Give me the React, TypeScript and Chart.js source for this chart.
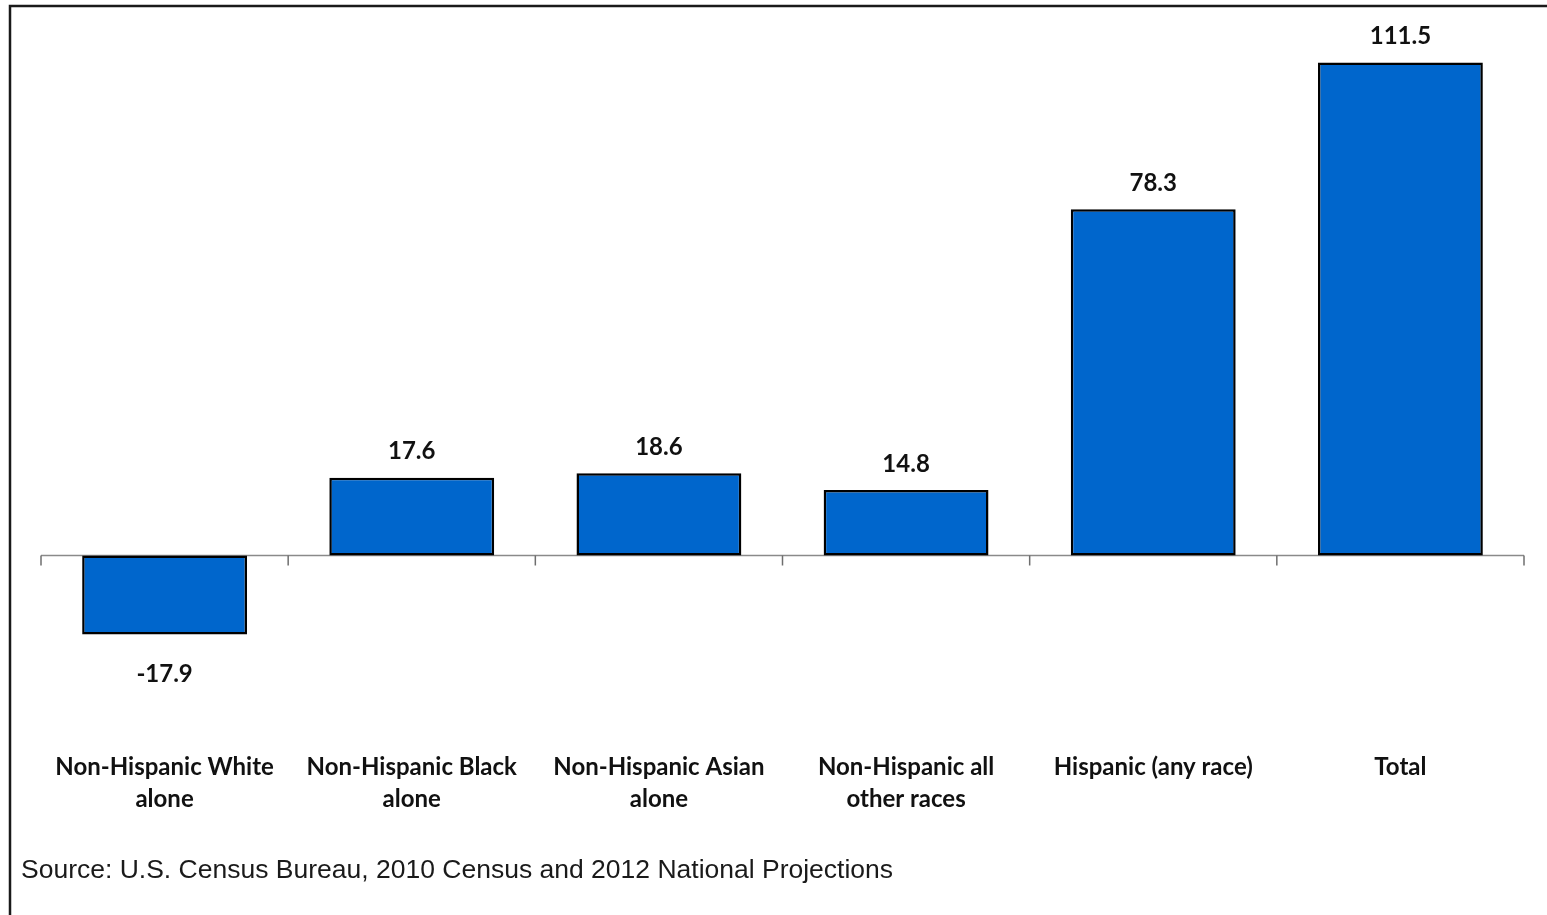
import React, { useEffect, useRef } from "react";
import { Chart, registerables } from "chart.js";

Chart.register(...registerables);

const categories: string[][] = [
  ["Non-Hispanic White", "alone"],
  ["Non-Hispanic Black", "alone"],
  ["Non-Hispanic Asian", "alone"],
  ["Non-Hispanic all", "other races"],
  ["Hispanic (any race)"],
  ["Total"],
];
const values: number[] = [-17.9, 17.6, 18.6, 14.8, 78.3, 111.5];
const sourceNote = "Source: U.S. Census Bureau, 2010 Census and 2012 National Projections";

const W = 1547;
const H = 915;

const framePlugin = {
  id: "frame",
  beforeDraw(chart: any) {
    const ctx = chart.ctx;
    ctx.save();
    ctx.fillStyle = "#ffffff";
    ctx.fillRect(0, 0, chart.width, chart.height);
    ctx.strokeStyle = "#1a1a1a";
    ctx.lineWidth = 2.5;
    ctx.strokeRect(10, 6, chart.width + 50, chart.height + 50);
    ctx.restore();
  },
  afterDraw(chart: any) {
    const ctx = chart.ctx;
    ctx.save();
    ctx.fillStyle = "#1a1a1a";
    ctx.font = "26.5px 'Liberation Sans', Arial, sans-serif";
    ctx.textAlign = "left";
    ctx.textBaseline = "middle";
    ctx.fillText(sourceNote, 21, 871);
    ctx.restore();
  },
};

const zeroAxisPlugin = {
  id: "zeroAxis",
  beforeDatasetsDraw(chart: any) {
    const ctx = chart.ctx;
    const x = chart.scales.x;
    const y = chart.scales.y;
    const area = chart.chartArea;
    const y0 = y.getPixelForValue(0);
    ctx.save();
    ctx.strokeStyle = "#8a8a8a";
    ctx.lineWidth = 1.5;
    ctx.beginPath();
    ctx.moveTo(area.left, y0);
    ctx.lineTo(area.right, y0);
    ctx.stroke();
    ctx.strokeStyle = "#6e6e6e";
    ctx.lineWidth = 1.5;
    const n = values.length;
    for (let i = 0; i <= n; i++) {
      let bx: number;
      if (i === 0) bx = area.left;
      else if (i === n) bx = area.right;
      else bx = (x.getPixelForValue(i - 1) + x.getPixelForValue(i)) / 2;
      ctx.beginPath();
      ctx.moveTo(bx, y0);
      ctx.lineTo(bx, y0 + 10);
      ctx.stroke();
    }
    ctx.restore();
  },
};

const valueLabelPlugin = {
  id: "valueLabels",
  afterDatasetsDraw(chart: any) {
    const ctx = chart.ctx;
    const meta = chart.getDatasetMeta(0);
    ctx.save();
    ctx.fillStyle = "#111111";
    ctx.font = "bold 24px Lato, 'Noto Sans', sans-serif";
    ctx.textAlign = "center";
    ctx.textBaseline = "middle";
    meta.data.forEach((bar: any, i: number) => {
      const v = values[i];
      const ty = v >= 0 ? bar.y - 26 : bar.y + 40;
      ctx.fillText(v.toFixed(1), bar.x, ty);
    });
    ctx.restore();
  },
};

export default function App() {
  const ref = useRef<HTMLCanvasElement | null>(null);

  useEffect(() => {
    document.body.style.margin = "0";
    document.body.style.overflow = "hidden";
    const canvas = ref.current;
    if (!canvas) return;
    const chart = new Chart(canvas, {
      type: "bar",
      data: {
        labels: categories,
        datasets: [
          {
            data: values,
            backgroundColor: "#0066cc",
            borderColor: "#000000",
            borderWidth: 2.5,
            borderSkipped: false,
            barPercentage: 0.667,
            categoryPercentage: 1,
          },
        ],
      },
      options: {
        responsive: false,
        animation: false,
        devicePixelRatio: 1,
        layout: { padding: { left: 41, right: 23, top: 25, bottom: 90 } },
        plugins: {
          legend: { display: false },
          tooltip: { enabled: false },
          title: { display: false },
        },
        scales: {
          x: {
            grid: { display: false, drawTicks: false },
            border: { display: false },
            ticks: {
              color: "#111111",
              padding: 10,
              maxRotation: 0,
              autoSkip: false,
              font: { family: "Lato, 'Noto Sans', sans-serif", size: 24, weight: "bold", lineHeight: 1.33 },
            },
          },
          y: {
            display: false,
            min: -42,
            max: 120,
          },
        },
      },
      plugins: [framePlugin, zeroAxisPlugin, valueLabelPlugin],
    });
    return () => chart.destroy();
  }, []);

  return (
    <div style={{ position: "absolute", left: 0, top: 0, width: W, height: H }}>
      <canvas ref={ref} width={W} height={H} style={{ width: W, height: H, display: "block" }} />
    </div>
  );
}
